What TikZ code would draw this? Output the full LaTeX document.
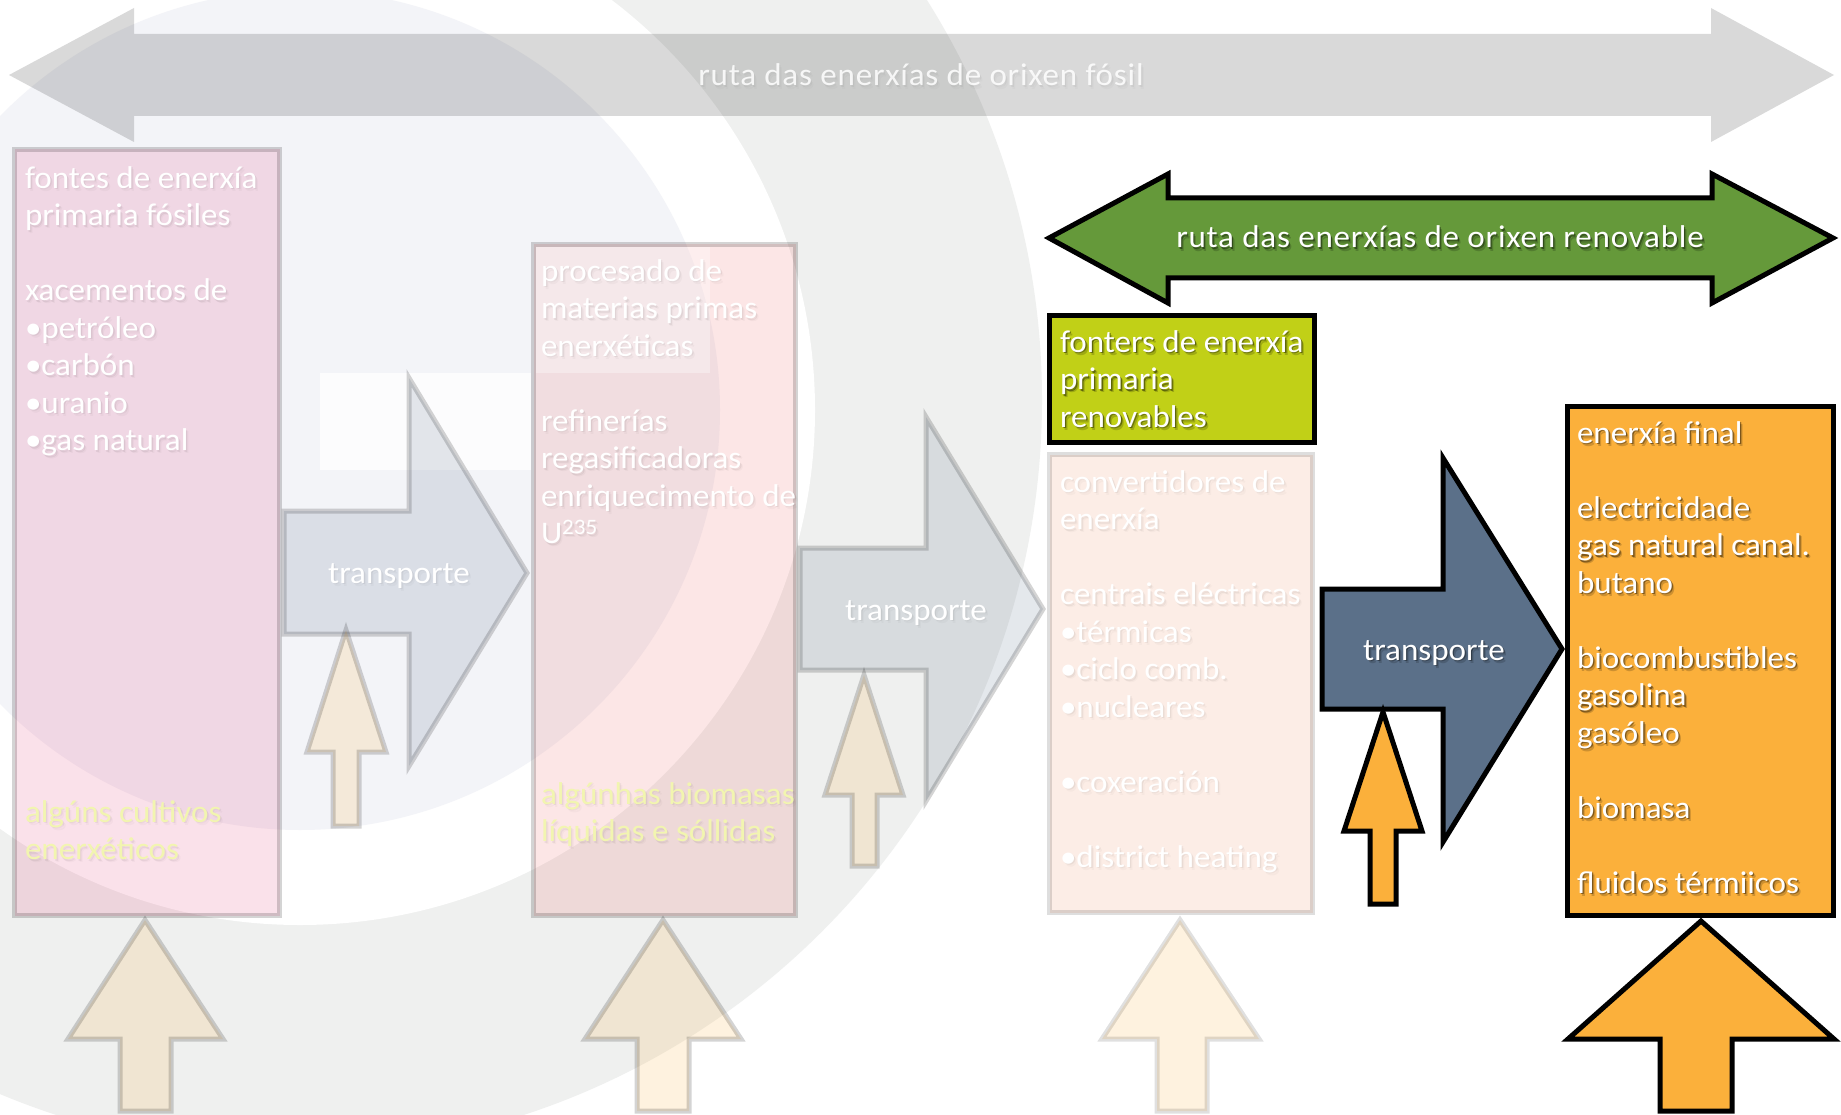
\documentclass[tikz,border=0pt]{standalone}
\usepackage{fontspec}
\setmainfont{Carlito}[FakeStretch=1.05]
\usetikzlibrary{calc}

\definecolor{bgblue}{HTML}{F3F4F8}
\definecolor{bggrey}{HTML}{EFF0EF}
\definecolor{slate}{HTML}{5B7089}
\definecolor{leaf}{HTML}{65993A}
\definecolor{lime}{HTML}{C1D017}
\definecolor{amber}{HTML}{FBB03B}
\definecolor{rose}{HTML}{E43773}
\definecolor{coral}{HTML}{EB5A5A}
\definecolor{peach}{HTML}{F08A5D}
\definecolor{paleyellow}{HTML}{F2F5B0}

\tikzset{
  fadedbox/.style={rectangle, inner sep=0pt, outer sep=0pt, line width=5pt,
    draw=black, draw opacity=0.17, fill opacity=0.15, anchor=north west},
  vividbox/.style={rectangle, inner sep=0pt, outer sep=0pt, line width=5pt,
    draw=black, anchor=north west},
  fadedshape/.style={line width=5pt, line join=miter, draw=black,
    draw opacity=0.17, fill opacity=0.16},
  vividshape/.style={line width=5pt, line join=miter, draw=black},
  txt/.style={inner sep=0pt, outer sep=0pt, align=left, text=white,
    font=\fontsize{31.5}{37.5}\selectfont},
  routetxt/.style={font=\fontsize{31.5}{37.5}\selectfont\addfontfeature{LetterSpace=2.5}},
}

% text with a soft drop shadow: #1 shadow opacity, #2 name, #3 position,
% #4 node options, #5 text
\newcommand\shadowtext[5]{%
  \pgfmathsetmacro\shadowfaint{#1*0.45}%
  \node[txt,#4,text=black,text opacity=\shadowfaint] (#2-shadowb) at ($(#3)+(2.6,3.4)$) {#5};
  \node[txt,#4,text=black,text opacity=#1] (#2-shadowa) at ($(#3)+(1.3,1.8)$) {#5};
  \node[txt,#4] (#2) at (#3) {#5};%
}

\begin{document}
\begin{tikzpicture}[x=1pt,y=-1pt]
\useasboundingbox (0,0) rectangle (1841,1115);

% backdrop: large ring emblem
\fill[white] (0,0) rectangle (1841,1115);
\begin{scope}
  \clip (0,0) rectangle (1841,1115);
  \fill[bggrey] (290,400) circle[radius=752];
  \fill[white] (300,410) circle[radius=515];
  \fill[bgblue] (300,410) circle[radius=420];
\end{scope}

% fossil route: wide double arrow across the top
\fill[black, fill opacity=0.15] (9,75) -- (134,8) -- (134,34) -- (1711,34)
  -- (1711,8) -- (1834,75) -- (1711,142) -- (1711,116) -- (134,116)
  -- (134,142) -- cycle;
\shadowtext{0.04}{fossilroute}{921,86}{anchor=base, align=center, routetxt, text opacity=0.85}
  {ruta das enerxías de orixen fósil}

% light panel behind the first transport stage
\fill[white, fill opacity=0.8] (320,373) rectangle (531,470);

% stage boxes
\node[fadedbox, fill=rose, minimum width=265pt, minimum height=766pt] (fossil) at (14.5,149.5) {};
\node[fadedbox, fill=coral, minimum width=262pt, minimum height=671pt] (processing) at (533.5,244.5) {};
\fill[white, fill opacity=0.35] (536,247) rectangle (710,373);
\node[fadedbox, fill=peach, draw opacity=0.13, minimum width=263pt, minimum height=458pt] (converters) at (1049.5,454.5) {};
\node[vividbox, fill=lime, minimum width=265pt, minimum height=127pt] (renewable) at (1049.5,315.5) {};
\node[vividbox, fill=amber, minimum width=266pt, minimum height=509pt] (final) at (1567.5,406.5) {};

% transport arrows
\path[fadedshape, fill=slate] (284,511) -- (409,511) -- (409,378) -- (527,573)
  -- (409,766) -- (409,634) -- (284,634) -- cycle;
\path[fadedshape, fill=slate] (800,548) -- (926,548) -- (926,417) -- (1043,609)
  -- (926,801) -- (926,670) -- (800,670) -- cycle;
\path[vividshape, fill=slate] (1322,589) -- (1443,589) -- (1443,458) -- (1562,649)
  -- (1443,842) -- (1443,709) -- (1322,709) -- cycle;

% small feed-in arrows under the transport arrows
\path[fadedshape, fill=amber] (346,630) -- (386,752) -- (359,752) -- (359,826)
  -- (333,826) -- (333,752) -- (307,752) -- cycle;
\path[fadedshape, fill=amber] (864,675) -- (903,795) -- (877,795) -- (877,866)
  -- (852,866) -- (852,795) -- (825,795) -- cycle;
\path[vividshape, fill=amber] (1383,712) -- (1422,831) -- (1396,831) -- (1396,904)
  -- (1370,904) -- (1370,831) -- (1344,831) -- cycle;

% large inflow arrows along the bottom
\path[fadedshape, fill=amber] (145,920) -- (223,1039) -- (171,1039) -- (171,1111)
  -- (120,1111) -- (120,1039) -- (68,1039) -- cycle;
\path[fadedshape, fill=amber] (663,920) -- (741,1039) -- (689,1039) -- (689,1111)
  -- (637,1111) -- (637,1039) -- (585,1039) -- cycle;
\path[fadedshape, fill=amber, draw opacity=0.12] (1180,920) -- (1259,1039) -- (1207,1039) -- (1207,1111)
  -- (1157,1111) -- (1157,1039) -- (1102,1039) -- cycle;
\path[vividshape, fill=amber] (1701,921) -- (1834,1039) -- (1732,1039) -- (1732,1111)
  -- (1660,1111) -- (1660,1039) -- (1568,1039) -- cycle;

% renewable route: double arrow
\path[vividshape, fill=leaf] (1049,238) -- (1168,174) -- (1168,198) -- (1712,198)
  -- (1712,174) -- (1833,238) -- (1712,303) -- (1712,278) -- (1168,278)
  -- (1168,303) -- cycle;
\shadowtext{0.4}{renewroute}{1440,248}{anchor=base, align=center, routetxt}
  {ruta das enerxías de orixen renovable}

% box texts
\shadowtext{0.06}{fossiltext}{25,161.75}{anchor=north west}
  {\strut fontes de enerxía\\primaria fósiles\\[37.5pt]xacementos de\\•petróleo\\•carbón\\•uranio\\•gas natural}
\shadowtext{0.05}{fossilcrops}{25,795.75}{anchor=north west, text=paleyellow}
  {\strut algúns cultivos\\enerxéticos}

\shadowtext{0.06}{processtext}{541,254.75}{anchor=north west}
  {\strut procesado de\\materias primas\\enerxéticas\\[37.5pt]refinerías\\regasificadoras\\enriquecimento de\\U\textsuperscript{235}}
\shadowtext{0.05}{processbio}{541,777.75}{anchor=north west, text=paleyellow}
  {\strut algúnhas biomasas\\líquidas e sóllidas}

\shadowtext{0.05}{convtext}{1060,465.75}{anchor=north west}
  {\strut convertidores de\\enerxía\\[37.5pt]centrais eléctricas\\•térmicas\\•ciclo comb.\\•nucleares\\[37.5pt]•coxeración\\[37.5pt]•district heating}

\shadowtext{0.4}{renewtext}{1060,325.75}{anchor=north west}
  {\strut fonters de enerxía\\primaria\\renovables}

\shadowtext{0.4}{finaltext}{1577,416.75}{anchor=north west}
  {\strut enerxía final\\[37.5pt]electricidade\\gas natural canal.\\butano\\[37.5pt]biocombustibles\\gasolina\\gasóleo\\[37.5pt]biomasa\\[37.5pt]fluidos térmiicos}

% transport labels
\shadowtext{0.05}{transportA}{399,583}{anchor=base, align=center}{transporte}
\shadowtext{0.05}{transportB}{916,620}{anchor=base, align=center}{transporte}
\shadowtext{0.35}{transportC}{1434,660}{anchor=base, align=center}{transporte}
\end{tikzpicture}
\end{document}
